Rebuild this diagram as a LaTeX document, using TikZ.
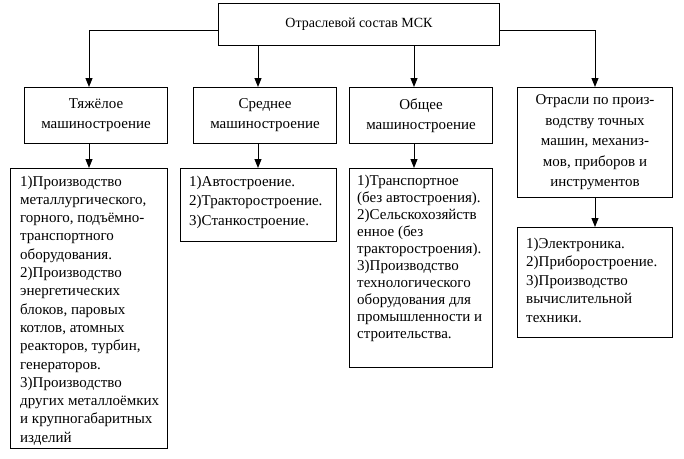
\documentclass[tikz,border=0pt]{standalone}
\usepackage{fontspec}
\setmainfont{Liberation Serif}
\usetikzlibrary{arrows.meta}
\begin{document}
\begin{tikzpicture}[x=1pt,y=-1pt,
  box/.style={draw, line width=1pt, inner sep=0pt, anchor=north west},
  head/.style={align=center, font=\fontsize{15}{20}\selectfont},
  list/.style={anchor=base west, inner sep=0pt},
  arr/.style={line width=1pt, -{Triangle[length=9pt,width=7pt]}}]
\useasboundingbox (0,0) rectangle (684,458);
\fill[white] (0,0) rectangle (684,458);
% boxes
\node[box, head, font=\fontsize{14}{20}\selectfont, minimum width=281pt, minimum height=42pt] (top) at (218,3) {Отраслевой состав МСК};
\node[box, head, minimum width=143pt, minimum height=56pt] (a) at (24,87) {Тяжёлое\\машиностроение};
\node[box, head, minimum width=143pt, minimum height=56pt] (b) at (193,87) {Среднее\\машиностроение};
\node[box, head, minimum width=143pt, minimum height=56pt] (c) at (349,87) {Общее\\машиностроение};
\node[box, head, font=\fontsize{15}{20.5}\selectfont, minimum width=155pt, minimum height=110pt] (d) at (517,87) {Отрасли по произ-\\водству точных\\машин, механиз-\\мов, приборов и\\инструментов};
\node[box, minimum width=157pt, minimum height=280pt] (a2) at (10,168) {};
\node[box, minimum width=156pt, minimum height=73pt] (b2) at (180,168) {};
\node[box, minimum width=143pt, minimum height=199pt] (c2) at (349,168) {};
\node[box, minimum width=155pt, minimum height=110pt] (d2) at (517,227) {};
% texts
\node[list, font=\fontsize{15}{18.3}\selectfont] (a2t) at (20,186) {\parbox[t]{150pt}{\raggedright
1)Производство\\
металлургического,\\
горного, подъёмно-\\
транспортного\\
оборудования.\\
2)Производство\\
энергетических\\
блоков, паровых\\
котлов, атомных\\
реакторов, турбин,\\
генераторов.\\
3)Производство\\
других металлоёмких\\
и крупногабаритных\\
изделий}};
\node[list, font=\fontsize{15}{19.5}\selectfont] (b2t) at (189,186) {\parbox[t]{150pt}{\raggedright
1)Автостроение.\\
2)Тракторостроение.\\
3)Станкостроение.}};
\node[list, font=\fontsize{15}{17.1}\selectfont] (c2t) at (357,185) {\parbox[t]{150pt}{\raggedright
1)Транспортное\\
(без автостроения).\\
2)Сельскохозяйств\\
енное (без\\
тракторостроения).\\
3)Производство\\
технологического\\
оборудования для\\
промышленности и\\
строительства.}};
\node[list, font=\fontsize{15}{18.5}\selectfont] (d2t) at (526,248) {\parbox[t]{150pt}{\raggedright
1)Электроника.\\
2)Приборостроение.\\
3)Производство\\
вычислительной\\
техники.}};
% connectors
\draw[arr] ([yshift=-6pt]top.west) -| (a.north -| 89,0);
\draw[arr] (top.south -| 258,0) -- (b.north -| 258,0);
\draw[arr] (top.south -| 414,0) -- (c.north -| 414,0);
\draw[arr] ([yshift=-6pt]top.east) -| (d.north -| 595,0);
\draw[arr] (a.south -| 89,0) -- (a2.north -| 89,0);
\draw[arr] (b.south -| 258,0) -- (b2.north -| 258,0);
\draw[arr] (c.south -| 414,0) -- (c2.north -| 414,0);
\draw[arr] (d.south -| 595,0) -- (d2.north -| 595,0);
\end{tikzpicture}
\end{document}
